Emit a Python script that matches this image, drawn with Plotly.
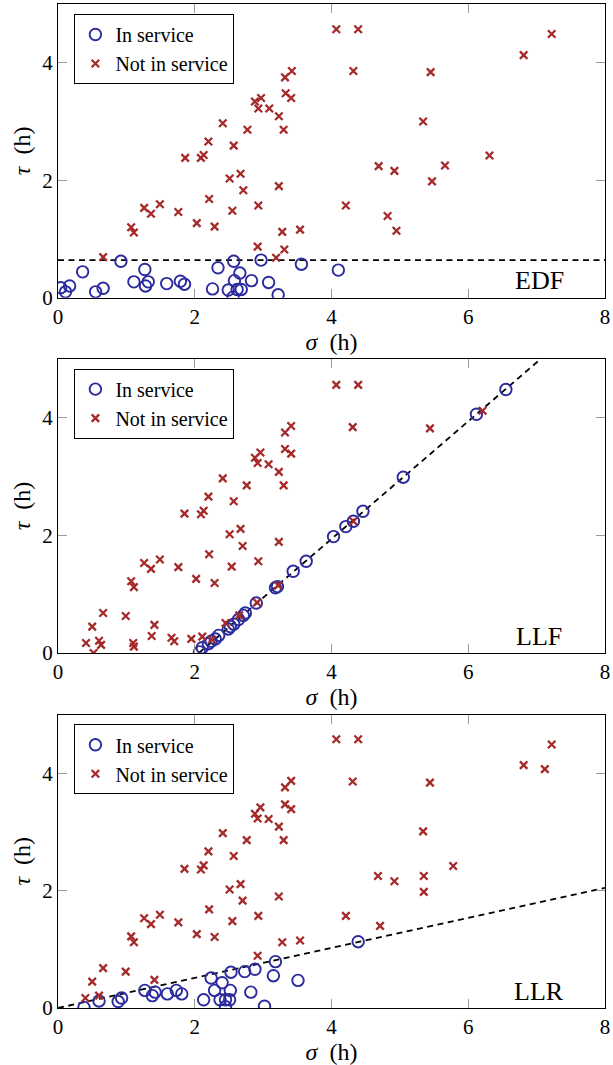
import plotly.graph_objects as go

# ---------------- data ----------------
# EDF panel
edf_in_sigma = [0.04, 0.11, 0.17, 0.36, 0.55, 0.66, 0.92, 1.11, 1.27, 1.28, 1.32, 1.59, 1.79, 1.85,
                2.26, 2.34, 2.49, 2.56, 2.57, 2.58, 2.62, 2.66, 2.68, 2.83, 2.97, 3.08, 3.22, 3.56, 4.10]
edf_in_tau = [0.17, 0.10, 0.20, 0.44, 0.10, 0.16, 0.62, 0.27, 0.48, 0.20, 0.27, 0.24, 0.28, 0.23,
              0.15, 0.51, 0.13, 0.01, 0.62, 0.29, 0.14, 0.42, 0.14, 0.29, 0.64, 0.26, 0.05, 0.57, 0.47]
edf_out_sigma = [0.66, 1.07, 1.11, 1.26, 1.36, 1.49, 1.76, 1.86, 2.03, 2.09, 2.13, 2.20, 2.21, 2.29,
                 2.41, 2.51, 2.55, 2.57, 2.67, 2.71, 2.77, 2.88, 2.93, 2.97, 2.93, 2.92, 3.09, 3.23,
                 3.23, 3.19, 3.28, 3.31, 3.32, 3.33, 3.30, 3.42, 3.41, 3.54, 4.07, 4.39, 4.32, 5.45,
                 5.34, 6.81, 7.22, 4.69, 4.92, 5.66, 6.31, 5.47, 4.21, 4.82, 4.95]
edf_out_tau = [0.69, 1.20, 1.11, 1.53, 1.43, 1.59, 1.46, 2.38, 1.27, 2.38, 2.43, 2.66, 1.68, 1.21,
               2.97, 2.03, 1.48, 2.59, 2.11, 1.83, 2.86, 3.34, 3.22, 3.40, 1.57, 0.87, 3.22, 3.09,
               1.90, 0.68, 1.12, 0.82, 3.75, 3.48, 2.86, 3.86, 3.40, 1.16, 4.57, 4.57, 3.86, 3.84,
               3.00, 4.13, 4.49, 2.24, 2.16, 2.25, 2.42, 1.98, 1.57, 1.39, 1.14]
edf_threshold = 0.64

# LLF panel
llf_in_sigma = [2.07, 2.11, 2.20, 2.24, 2.30, 2.35, 2.49, 2.52, 2.57, 2.64, 2.71, 2.74, 2.90, 3.18,
                3.21, 3.44, 3.63, 4.03, 4.21, 4.32, 4.46, 5.05, 6.12, 6.55]
llf_in_tau = [0.02, 0.09, 0.16, 0.20, 0.24, 0.30, 0.41, 0.45, 0.49, 0.57, 0.64, 0.68, 0.85, 1.11,
              1.13, 1.39, 1.56, 1.98, 2.15, 2.24, 2.41, 2.99, 4.06, 4.48]
llf_out_sigma = [0.41, 0.50, 0.52, 0.60, 0.63, 0.66, 0.99, 1.07, 1.10, 1.11, 1.11, 1.26, 1.36, 1.37,
                 1.41, 1.49, 1.66, 1.70, 1.76, 1.85, 1.95, 2.02, 2.09, 2.13, 2.11, 2.20, 2.21, 2.25,
                 2.29, 2.41, 2.45, 2.51, 2.54, 2.57, 2.65, 2.67, 2.70, 2.76, 2.91, 2.88, 2.92, 2.96,
                 2.93, 3.08, 3.23, 3.23, 3.22, 3.30, 3.32, 3.32, 3.41, 3.41, 4.07, 4.39, 4.31, 5.44,
                 6.21, 4.32]
llf_out_tau = [0.17, 0.45, 0.00, 0.21, 0.14, 0.68, 0.63, 1.22, 0.17, 0.11, 1.12, 1.53, 1.43, 0.29,
               0.48, 1.59, 0.26, 0.20, 1.46, 2.37, 0.24, 1.26, 2.36, 2.42, 0.28, 2.66, 1.68, 0.23,
               1.19, 2.97, 0.51, 2.02, 1.47, 2.58, 0.64, 2.11, 1.82, 2.85, 0.86, 3.32, 3.23, 3.41,
               1.56, 3.21, 3.08, 1.89, 1.15, 2.85, 3.75, 3.47, 3.86, 3.39, 4.56, 4.56, 3.84, 3.82,
               4.12, 2.24]
llf_offset = 2.06

# LLR panel
llr_in_sigma = [0.38, 0.60, 0.88, 0.93, 1.27, 1.38, 1.42, 1.60, 1.73, 1.81, 2.13, 2.24, 2.29, 2.37,
                2.40, 2.45, 2.45, 2.51, 2.52, 2.53, 2.73, 2.82, 2.88, 3.02, 3.15, 3.18, 3.51, 4.39]
llr_in_tau = [0.01, 0.12, 0.11, 0.17, 0.30, 0.21, 0.27, 0.24, 0.30, 0.24, 0.14, 0.51, 0.30, 0.14,
              0.43, 0.14, 0.02, 0.14, 0.30, 0.61, 0.62, 0.27, 0.66, 0.03, 0.55, 0.79, 0.47, 1.13]
llr_out_sigma = [0.40, 0.50, 0.60, 0.66, 0.99, 1.07, 1.11, 1.26, 1.36, 1.41, 1.49, 1.76, 1.85, 2.03,
                 2.09, 2.13, 2.20, 2.21, 2.29, 2.41, 2.51, 2.55, 2.57, 2.67, 2.70, 2.76, 2.88, 2.92,
                 2.96, 2.92, 2.93, 3.08, 3.23, 3.23, 3.28, 3.30, 3.32, 3.32, 3.41, 3.41, 3.54, 4.07,
                 4.39, 4.31, 5.44, 5.34, 6.81, 7.12, 7.22, 4.68, 4.92, 5.35, 5.35, 5.78, 4.21, 4.71]
llr_out_tau = [0.17, 0.45, 0.21, 0.68, 0.62, 1.22, 1.12, 1.53, 1.43, 0.48, 1.59, 1.46, 2.37, 1.26,
               2.36, 2.43, 2.67, 1.68, 1.21, 2.98, 2.02, 1.48, 2.59, 2.11, 1.83, 2.86, 3.31, 3.23,
               3.42, 0.89, 1.57, 3.22, 3.09, 1.90, 1.12, 2.86, 3.76, 3.47, 3.87, 3.39, 1.15, 4.58,
               4.58, 3.86, 3.84, 3.01, 4.14, 4.07, 4.49, 2.25, 2.16, 2.25, 1.98, 2.42, 1.57, 1.40]
llr_slope = 0.256

panel_labels = ["EDF", "LLF", "LLR"]
x_ticks = [0, 2, 4, 6, 8]
y_ticks = [0, 2, 4]
x_range = [0, 8]
y_range = [0, 5]

# ---------------- styling ----------------
BLUE = "#2b2b9e"
RED = "#a52a2a"
FONT = "Liberation Serif, Times New Roman, serif"

panels = [
    (edf_in_sigma, edf_in_tau, edf_out_sigma, edf_out_tau,
     [x_range[0], x_range[1]], [edf_threshold, edf_threshold]),
    (llf_in_sigma, llf_in_tau, llf_out_sigma, llf_out_tau,
     [llf_offset, x_range[1]], [0, x_range[1] - llf_offset]),
    (llr_in_sigma, llr_in_tau, llr_out_sigma, llr_out_tau,
     [x_range[0], x_range[1]], [llr_slope * x_range[0], llr_slope * x_range[1]]),
]

H = 1065
TOP, BOTTOM = 3, 57
plot_h = H - TOP - BOTTOM
panel_px = [(3, 297), (358.3, 652.7), (714.3, 1008)]
legend_top_px = [13, 368, 724]


def to_paper(py):
    return min(1.0, max(0.0, 1 - (py - TOP) / plot_h))


fig = go.Figure()
layout = dict(
    width=613, height=H,
    margin=dict(l=58, r=5, t=TOP, b=BOTTOM),
    paper_bgcolor="white", plot_bgcolor="white",
    font=dict(family=FONT, size=21, color="black"),
    showlegend=True,
    annotations=[],
)

for i, (ins, int_, outs, outt, lx, ly) in enumerate(panels):
    n = "" if i == 0 else str(i + 1)
    xa, ya = "x" + n, "y" + n
    leg = "legend" + n
    fig.add_trace(go.Scatter(
        x=lx, y=ly, mode="lines", xaxis=xa, yaxis=ya, showlegend=False,
        line=dict(color="black", width=1.8, dash="6px,4.5px"), hoverinfo="skip", cliponaxis=True))
    fig.add_trace(go.Scatter(
        x=ins, y=int_, mode="markers", xaxis=xa, yaxis=ya, name="In service", legend=leg,
        marker=dict(symbol="circle-open", size=11.5, color=BLUE, line=dict(width=1.9, color=BLUE))))
    fig.add_trace(go.Scatter(
        x=outs, y=outt, mode="markers", xaxis=xa, yaxis=ya, name="Not in service", legend=leg,
        marker=dict(symbol="x-thin-open", size=7.5, color=RED, line=dict(width=2.3, color=RED))))

    top, bot = panel_px[i]
    axis_common = dict(
        showline=True, linecolor="black", linewidth=1.2, mirror="ticks",
        ticks="inside", ticklen=9, tickwidth=1, tickcolor="#9a9a9a",
        showgrid=False, zeroline=False, ticklabeloverflow="allow",
        tickfont=dict(family=FONT, size=21, color="black"),
    )
    layout["xaxis" + n] = dict(
        axis_common, domain=[0, 1], anchor=ya, range=x_range, tickvals=x_ticks,
        ticktext=[str(v) for v in x_ticks],
        title=dict(text="<i>σ</i>\u2002(h)", font=dict(family=FONT, size=24), standoff=3))
    layout["yaxis" + n] = dict(
        axis_common, domain=[to_paper(bot), to_paper(top)], anchor=xa, range=y_range,
        tickvals=y_ticks, ticktext=[str(v) for v in y_ticks],
        title=dict(text="<i>τ</i>\u2002(h)", font=dict(family=FONT, size=24), standoff=4))
    layout[leg] = dict(
        x=0.03, y=to_paper(legend_top_px[i]), xanchor="left", yanchor="top",
        bgcolor="white", bordercolor="black", borderwidth=1,
        font=dict(family=FONT, size=20), tracegroupgap=0, itemwidth=30)
    layout["annotations"].append(dict(
        text=panel_labels[i], xref=xa + " domain", yref=ya + " domain",
        x=0.88, y=17 / (bot - top), xanchor="center", yanchor="middle",
        showarrow=False, font=dict(family=FONT, size=26, color="black")))

fig.update_layout(**layout)
fig.write_html("out.html")
